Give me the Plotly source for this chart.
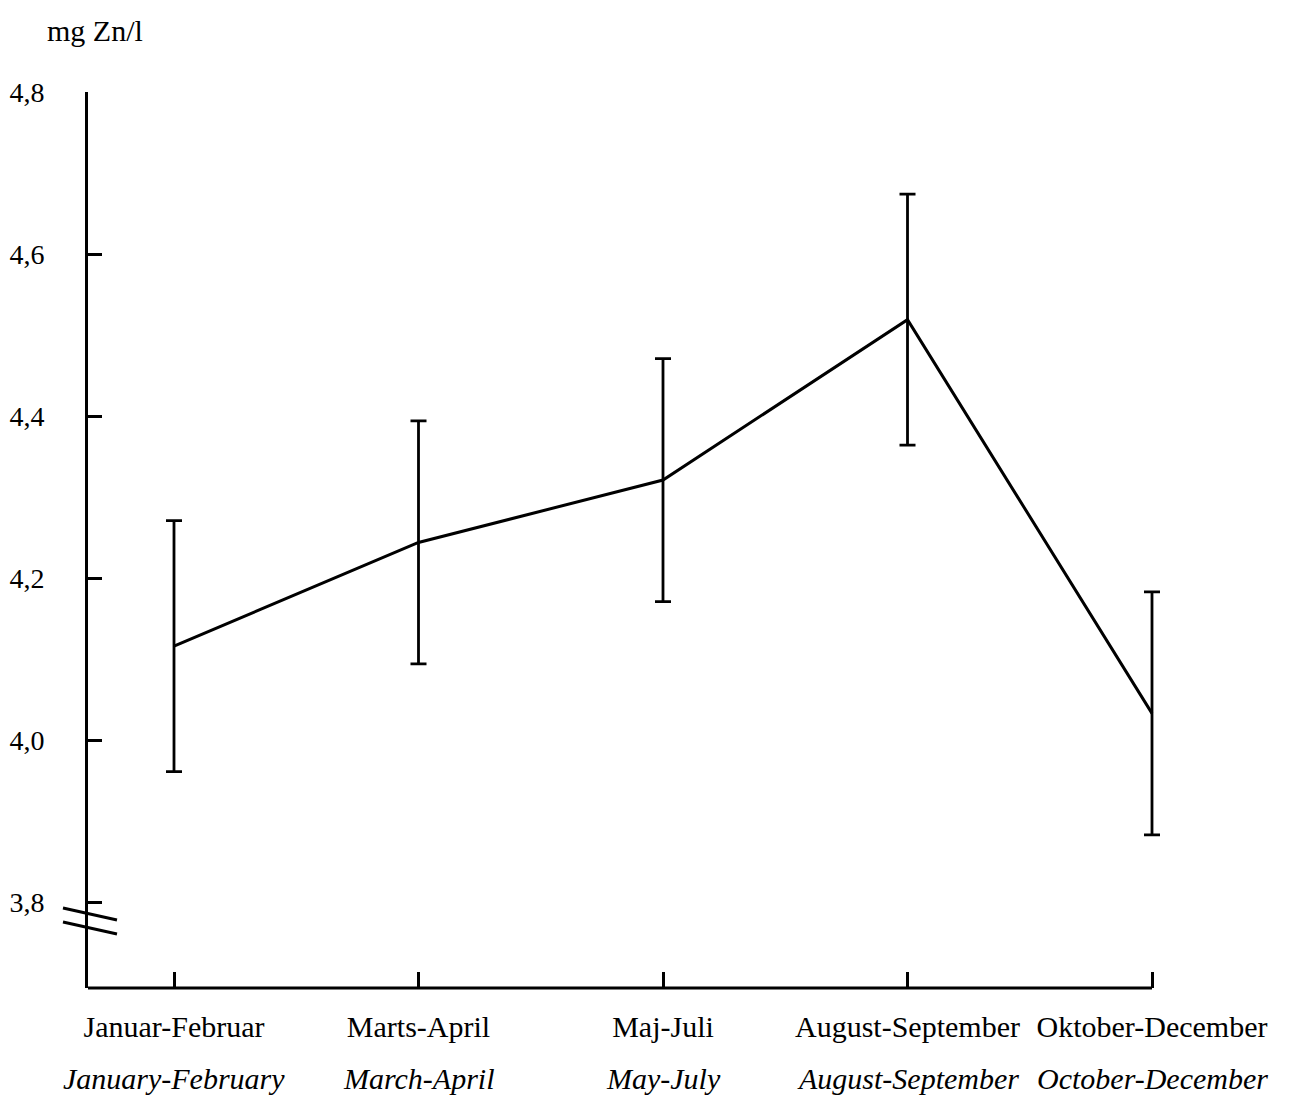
import plotly.graph_objects as go

periods_da = ["Januar-Februar", "Marts-April", "Maj-Juli", "August-September", "Oktober-December"]
periods_en = ["January-February", "March-April", "May-July", "August-September", "October-December"]
zn_mean = [4.116, 4.244, 4.321, 4.519, 4.033]
zn_err = [0.155, 0.150, 0.150, 0.155, 0.150]
y_ticks = [3.8, 4.0, 4.2, 4.4, 4.6, 4.8]

FONT = "Liberation Serif"
xs = list(range(len(periods_da)))

# page body has an 8px margin; compensate so the plot lands where the reference has it
OFF = 8
L, T, B_AX, R_AX = 88, 92, 988, 1152
PW, PH = R_AX + 10 - L, B_AX - T
X_LEFT = -86 / 244.5
X_RIGHT = 4 + 10 / 244.5

fig = go.Figure()
fig.add_trace(go.Scatter(
    x=xs, y=zn_mean, mode="lines",
    line=dict(color="black", width=3),
    error_y=dict(type="data", array=zn_err, visible=True, color="black", thickness=2.8, width=8),
    cliponaxis=False, showlegend=False,
))

for i, txt in enumerate(periods_en):
    fig.add_annotation(x=i, xref="x", y=0, yref="paper", yshift=-90, yanchor="middle",
                       text=f"<i>{txt}</i>", showarrow=False,
                       font=dict(family=FONT, size=30, color="black"))

# x axis line ending at the last category
fig.add_shape(type="line", xref="x", yref="paper", x0=X_LEFT, x1=4, y0=0, y1=0,
              line=dict(color="black", width=3))

# axis break marks
for y0 in (908, 922):
    fig.add_shape(type="line", xref="paper", yref="paper",
                  x0=(63 - L) / PW, x1=(117 - L) / PW,
                  y0=(B_AX - y0) / PH, y1=(B_AX - y0 - 12) / PH,
                  line=dict(color="black", width=3))

fig.add_annotation(x=(95 - L) / PW, xref="paper", y=1, yref="paper", yshift=62,
                   yanchor="middle", xanchor="center",
                   text="mg Zn/l", showarrow=False,
                   font=dict(family=FONT, size=30, color="black"))

fig.update_layout(
    width=1312 - OFF, height=1100 - OFF,
    margin=dict(l=L - OFF, r=1312 - (R_AX + 10), t=T - OFF, b=1100 - B_AX, autoexpand=False),
    paper_bgcolor="white", plot_bgcolor="white",
    separators=",.",
    font=dict(family=FONT, size=30, color="black"),
    xaxis=dict(range=[X_LEFT, X_RIGHT], tickmode="array", tickvals=xs, ticktext=periods_da,
               showgrid=False, zeroline=False, showline=False,
               ticks="inside", ticklen=16, tickwidth=2.5, tickcolor="black",
               ticklabelstandoff=18),
    yaxis=dict(range=[3.694, 4.8], tickmode="array", tickvals=y_ticks,
               ticktext=[f"{v:.1f}".replace(".", ",") for v in y_ticks],
               showgrid=False, zeroline=False, showline=True, linecolor="black", linewidth=3,
               ticks="inside", ticklen=14, tickwidth=2.5, tickcolor="black",
               ticklabelstandoff=35, tickfont=dict(size=28)),
)

fig.write_html("out.html")
